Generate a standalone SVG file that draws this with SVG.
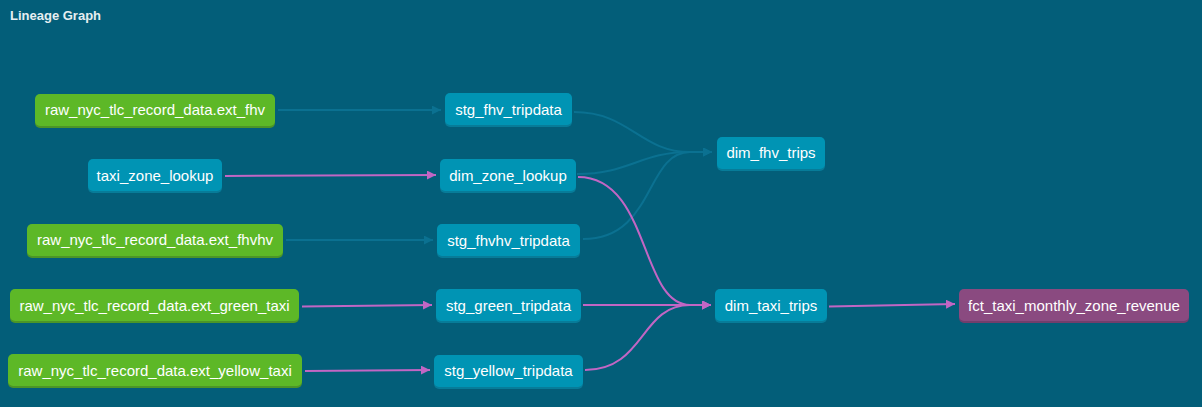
<svg xmlns="http://www.w3.org/2000/svg" width="1202" height="407" viewBox="0 0 1202 407">
<style>
.bg{fill:#035e79}
.title{font-family:"Liberation Sans",Arial,sans-serif;font-size:13px;font-weight:bold;fill:#e6eef1}
.lbl{font-family:"Liberation Sans",Arial,sans-serif;font-size:15px;fill:#ffffff;text-anchor:middle}
.src rect.f{fill:#5db827}
.src rect.s{fill:#4c9527}
.mdl rect.f{fill:#0094b4}
.mdl rect.s{fill:#077c99}
.fct rect.f{fill:#8a4a80}
.fct rect.s{fill:#723e6c}
.e{fill:none;stroke-width:2}
.eb{stroke:#0b7191;marker-end:url(#ab)}
.ep{stroke:#c266c4;marker-end:url(#ap)}
</style>
<defs>
<marker id="ab" viewBox="0 0 10 10" refX="10" refY="5" markerWidth="4.5" markerHeight="4.5" orient="auto" markerUnits="strokeWidth">
<path d="M0,0 L10,5 L0,10 z" fill="#0b7191"/>
</marker>
<marker id="ap" viewBox="0 0 10 10" refX="10" refY="5" markerWidth="4.5" markerHeight="4.5" orient="auto" markerUnits="strokeWidth">
<path d="M0,0 L10,5 L0,10 z" fill="#c266c4"/>
</marker>
</defs>
<rect class="bg" x="0" y="0" width="1202" height="407"/>
<text class="title" x="10" y="20">Lineage Graph</text>

<g id="connectors">
<path class="e eb" d="M278,110 L441,110"/>
<path class="e ep" d="M225,176 L436,175"/>
<path class="e eb" d="M286,240 L433,240"/>
<path class="e ep" d="M302,306.5 L432,305"/>
<path class="e ep" d="M305,371 L430,370"/>
<path class="e eb" d="M574,112 C630,112 640,152 690,152 L712,152"/>
<path class="e eb" d="M577,174 C630,174 640,152 690,152 L712,152"/>
<path class="e eb" d="M583,239 C655,239 645,152 690,152 L712,152"/>
<path class="e ep" d="M578,177 C650,177 640,305 690,305 L711,305"/>
<path class="e ep" d="M583,305 L711,305"/>
<path class="e ep" d="M585,370 C645,370 640,305 690,305 L711,305"/>
<path class="e ep" d="M829,306.5 L955,304"/>
</g>

<g id="raw_ext_fhv" class="src">
<rect class="s" x="35" y="96" width="240" height="32" rx="5"/>
<rect class="f" x="35" y="94" width="240" height="32" rx="5"/>
<text class="lbl" x="155" y="115">raw_nyc_tlc_record_data.ext_fhv</text>
</g>
<g id="taxi_zone_lookup" class="mdl">
<rect class="s" x="88" y="161" width="134" height="32" rx="5"/>
<rect class="f" x="88" y="159" width="134" height="32" rx="5"/>
<text class="lbl" x="155" y="180.5">taxi_zone_lookup</text>
</g>
<g id="raw_ext_fhvhv" class="src">
<rect class="s" x="27" y="226" width="256" height="32" rx="5"/>
<rect class="f" x="27" y="224" width="256" height="32" rx="5"/>
<text class="lbl" x="155" y="245">raw_nyc_tlc_record_data.ext_fhvhv</text>
</g>
<g id="raw_ext_green_taxi" class="src">
<rect class="s" x="10" y="291" width="289" height="32" rx="5"/>
<rect class="f" x="10" y="289" width="289" height="32" rx="5"/>
<text class="lbl" x="154.5" y="310.5">raw_nyc_tlc_record_data.ext_green_taxi</text>
</g>
<g id="raw_ext_yellow_taxi" class="src">
<rect class="s" x="8" y="356" width="294" height="32" rx="5"/>
<rect class="f" x="8" y="354" width="294" height="32" rx="5"/>
<text class="lbl" x="155" y="375.5">raw_nyc_tlc_record_data.ext_yellow_taxi</text>
</g>

<g id="stg_fhv_tripdata" class="mdl">
<rect class="s" x="445" y="95" width="127" height="32" rx="5"/>
<rect class="f" x="445" y="93" width="127" height="32" rx="5"/>
<text class="lbl" x="508.5" y="114.5">stg_fhv_tripdata</text>
</g>
<g id="dim_zone_lookup" class="mdl">
<rect class="s" x="440" y="161" width="136" height="32" rx="5"/>
<rect class="f" x="440" y="159" width="136" height="32" rx="5"/>
<text class="lbl" x="508" y="180.5">dim_zone_lookup</text>
</g>
<g id="stg_fhvhv_tripdata" class="mdl">
<rect class="s" x="437" y="226" width="143" height="32" rx="5"/>
<rect class="f" x="437" y="224" width="143" height="32" rx="5"/>
<text class="lbl" x="508.5" y="245.5">stg_fhvhv_tripdata</text>
</g>
<g id="stg_green_tripdata" class="mdl">
<rect class="s" x="436" y="291" width="145" height="32" rx="5"/>
<rect class="f" x="436" y="289" width="145" height="32" rx="5"/>
<text class="lbl" x="508.5" y="310.5">stg_green_tripdata</text>
</g>
<g id="stg_yellow_tripdata" class="mdl">
<rect class="s" x="434" y="357" width="149" height="32" rx="5"/>
<rect class="f" x="434" y="355" width="149" height="32" rx="5"/>
<text class="lbl" x="508.5" y="376">stg_yellow_tripdata</text>
</g>

<g id="dim_fhv_trips" class="mdl">
<rect class="s" x="717" y="139" width="108" height="32" rx="5"/>
<rect class="f" x="717" y="137" width="108" height="32" rx="5"/>
<text class="lbl" x="771" y="158">dim_fhv_trips</text>
</g>
<g id="dim_taxi_trips" class="mdl">
<rect class="s" x="715" y="291" width="112" height="32" rx="5"/>
<rect class="f" x="715" y="289" width="112" height="32" rx="5"/>
<text class="lbl" x="771" y="310.5">dim_taxi_trips</text>
</g>
<g id="fct_taxi_monthly_zone_revenue" class="fct">
<rect class="s" x="959" y="291" width="230" height="32" rx="5"/>
<rect class="f" x="959" y="289" width="230" height="32" rx="5"/>
<text class="lbl" x="1074" y="310.5">fct_taxi_monthly_zone_revenue</text>
</g>
</svg>
